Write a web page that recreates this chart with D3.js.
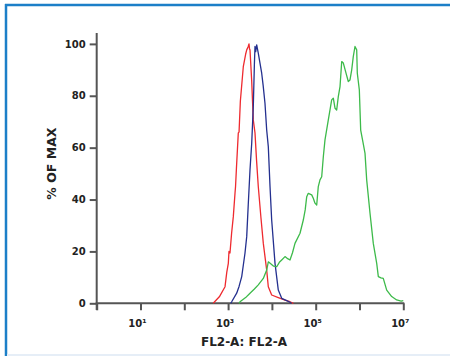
<!DOCTYPE html>
<html>
<head>
<meta charset="utf-8">
<script src="https://cdn.jsdelivr.net/npm/d3@7"></script>
<style>
  body { margin: 0; background: #fff; }
  svg { display: block; font-family: Verdana, "DejaVu Sans", sans-serif; }
</style>
</head>
<body>
<svg width="450" height="356"></svg>
<script>
// histogram traces: [log10(FL2-A), % of max]
const redTrace = [
  [2.66, 0], [2.80, 2.5], [2.93, 6.4], [2.97, 12], [3.005, 15.4], [3.02, 20], [3.043, 19.4], [3.08, 27],
  [3.119, 33.4], [3.158, 42.5], [3.17, 45], [3.19, 52], [3.233, 65.7], [3.25, 66], [3.28, 78],
  [3.347, 91.2], [3.40, 96], [3.425, 97.7], [3.46, 99], [3.477, 100], [3.49, 98], [3.50, 97.7],
  [3.538, 86], [3.575, 70.7], [3.614, 65.7], [3.65, 55], [3.689, 45], [3.75, 33], [3.804, 23.1],
  [3.881, 12.8], [3.918, 6.4], [3.995, 3.2], [4.146, 2.2], [4.30, 1.2], [4.413, 0.6], [4.49, 0]
];
const blueTrace = [
  [3.06, 0], [3.082, 0.6], [3.196, 3.9], [3.25, 6.5], [3.311, 10.3], [3.386, 19.4], [3.425, 25.7],
  [3.46, 38], [3.50, 51.4], [3.539, 61.7], [3.575, 75.8], [3.60, 92], [3.614, 99], [3.63, 97],
  [3.653, 99.6], [3.689, 96.4], [3.728, 92.6], [3.767, 88.7], [3.80, 84], [3.842, 77.1], [3.881, 66.8],
  [3.918, 60.4], [3.957, 45], [3.995, 32.1], [4.071, 15.4], [4.146, 5.1], [4.224, 1.9], [4.338, 1],
  [4.40, 0.5], [4.45, 0]
];
const greenTrace = [
  [3.25, 0], [3.272, 0.6], [3.40, 2.2], [3.50, 3.9], [3.60, 5.5], [3.689, 7.1], [3.804, 9.6],
  [3.881, 12.8], [3.918, 16], [3.96, 15.4], [4.04, 14.3], [4.11, 14.1], [4.17, 15.8], [4.224, 16.7],
  [4.299, 18], [4.36, 17.2], [4.413, 16.7], [4.47, 19.5], [4.527, 23.1], [4.642, 27], [4.717, 32.1],
  [4.76, 36], [4.795, 41.1], [4.831, 42.4], [4.909, 41.8], [4.945, 40.5], [4.984, 38.6], [5.023, 37.9],
  [5.059, 45], [5.098, 47.6], [5.137, 48.8], [5.174, 56.5], [5.212, 63], [5.288, 70.7], [5.365, 78.4],
  [5.402, 79.1], [5.441, 75.2], [5.479, 74.5], [5.516, 79.7], [5.555, 83.5], [5.594, 93.2],
  [5.631, 92.6], [5.692, 88.7], [5.744, 85.5], [5.783, 86.1], [5.822, 90], [5.858, 95.1], [5.897, 99],
  [5.936, 97.7], [5.95, 88.7], [5.996, 82.3], [6.027, 66.8], [6.08, 62], [6.126, 57.8], [6.164, 47.6],
  [6.24, 34.7], [6.315, 23.1], [6.393, 15.4], [6.43, 10.3], [6.49, 9.8], [6.543, 9.6], [6.621, 5.1],
  [6.735, 2.6], [6.849, 1.3], [6.95, 0.8], [7.0, 1]
];
const series = [
  { name: "red", color: "#ee2a2f", values: redTrace },
  { name: "blue", color: "#24308f", values: blueTrace },
  { name: "green", color: "#3dba4a", values: greenTrace }
];
const yTicks = [0, 20, 40, 60, 80, 100];
const xTickPowers = [0, 1, 2, 3, 4, 5, 6, 7];
const xLabelPowers = [1, 3, 5, 7];
const supers = { 1: "\u00b9", 3: "\u00b3", 5: "\u2075", 7: "\u2077" };

const svg = d3.select("svg");

// frame
svg.append("line")
  .attr("x1", 5).attr("x2", 450).attr("y1", 5).attr("y2", 5)
  .attr("stroke", "#1c7fc8").attr("stroke-width", 2.5);
svg.append("line")
  .attr("x1", 6).attr("x2", 6).attr("y1", 4).attr("y2", 356)
  .attr("stroke", "#1c7fc8").attr("stroke-width", 2.5);
svg.append("line")
  .attr("x1", 7).attr("x2", 450).attr("y1", 355).attr("y2", 355)
  .attr("stroke", "#e6eef7").attr("stroke-width", 2);

const x = d3.scaleLinear().domain([0, 7]).range([96.7, 403.3]);
const y = d3.scaleLinear().domain([0, 104.2]).range([303.3, 33]);

const axisColor = "#555";

// y axis
const yAxis = svg.append("g")
  .attr("transform", `translate(${x(0)},0)`)
  .call(d3.axisLeft(y).tickValues(yTicks).tickSize(7).tickPadding(4));
yAxis.select(".domain").remove();
yAxis.append("line")
  .attr("y1", y(104.2)).attr("y2", 310)
  .attr("stroke", axisColor).attr("stroke-width", 2);
yAxis.selectAll(".tick line").attr("stroke", axisColor).attr("stroke-width", 2);
yAxis.selectAll(".tick text")
  .attr("fill", "#222").attr("font-size", 10).attr("font-weight", "bold")
  .attr("font-family", "Verdana, 'DejaVu Sans', sans-serif");

// x axis
const xAxis = svg.append("g")
  .attr("transform", `translate(0,${y(0)})`)
  .call(d3.axisBottom(x).tickValues(xTickPowers).tickSize(7).tickFormat(""));
xAxis.select(".domain").remove();
xAxis.append("line")
  .attr("x1", x(0) - 1).attr("x2", x(7) + 1)
  .attr("stroke", axisColor).attr("stroke-width", 2);
xAxis.selectAll(".tick line").attr("stroke", axisColor).attr("stroke-width", 2);

svg.append("g").selectAll("text")
  .data(xLabelPowers)
  .enter().append("text")
    .attr("x", d => x(d) - 3)
    .attr("y", 327)
    .attr("text-anchor", "middle")
    .attr("font-size", 10)
    .attr("font-weight", "bold")
    .attr("fill", "#222")
    .text(d => "10" + supers[d]);

// axis titles
svg.append("text")
  .attr("transform", `translate(56,${(y(0) + y(100)) / 2 - 10}) rotate(-90)`)
  .attr("text-anchor", "middle")
  .attr("font-size", 12.5)
  .attr("font-weight", "bold")
  .attr("fill", "#222")
  .text("% OF MAX");

svg.append("text")
  .attr("x", 244)
  .attr("y", 346)
  .attr("text-anchor", "middle")
  .attr("font-size", 12)
  .attr("font-weight", "bold")
  .attr("fill", "#222")
  .text("FL2-A: FL2-A");

// traces
const line = d3.line()
  .x(d => x(d[0]))
  .y(d => y(d[1]));

svg.append("g").selectAll("path")
  .data(series)
  .enter().append("path")
    .attr("d", d => line(d.values))
    .attr("fill", "none")
    .attr("stroke", d => d.color)
    .attr("stroke-width", 1.3)
    .attr("stroke-linejoin", "round");
</script>
</body>
</html>
